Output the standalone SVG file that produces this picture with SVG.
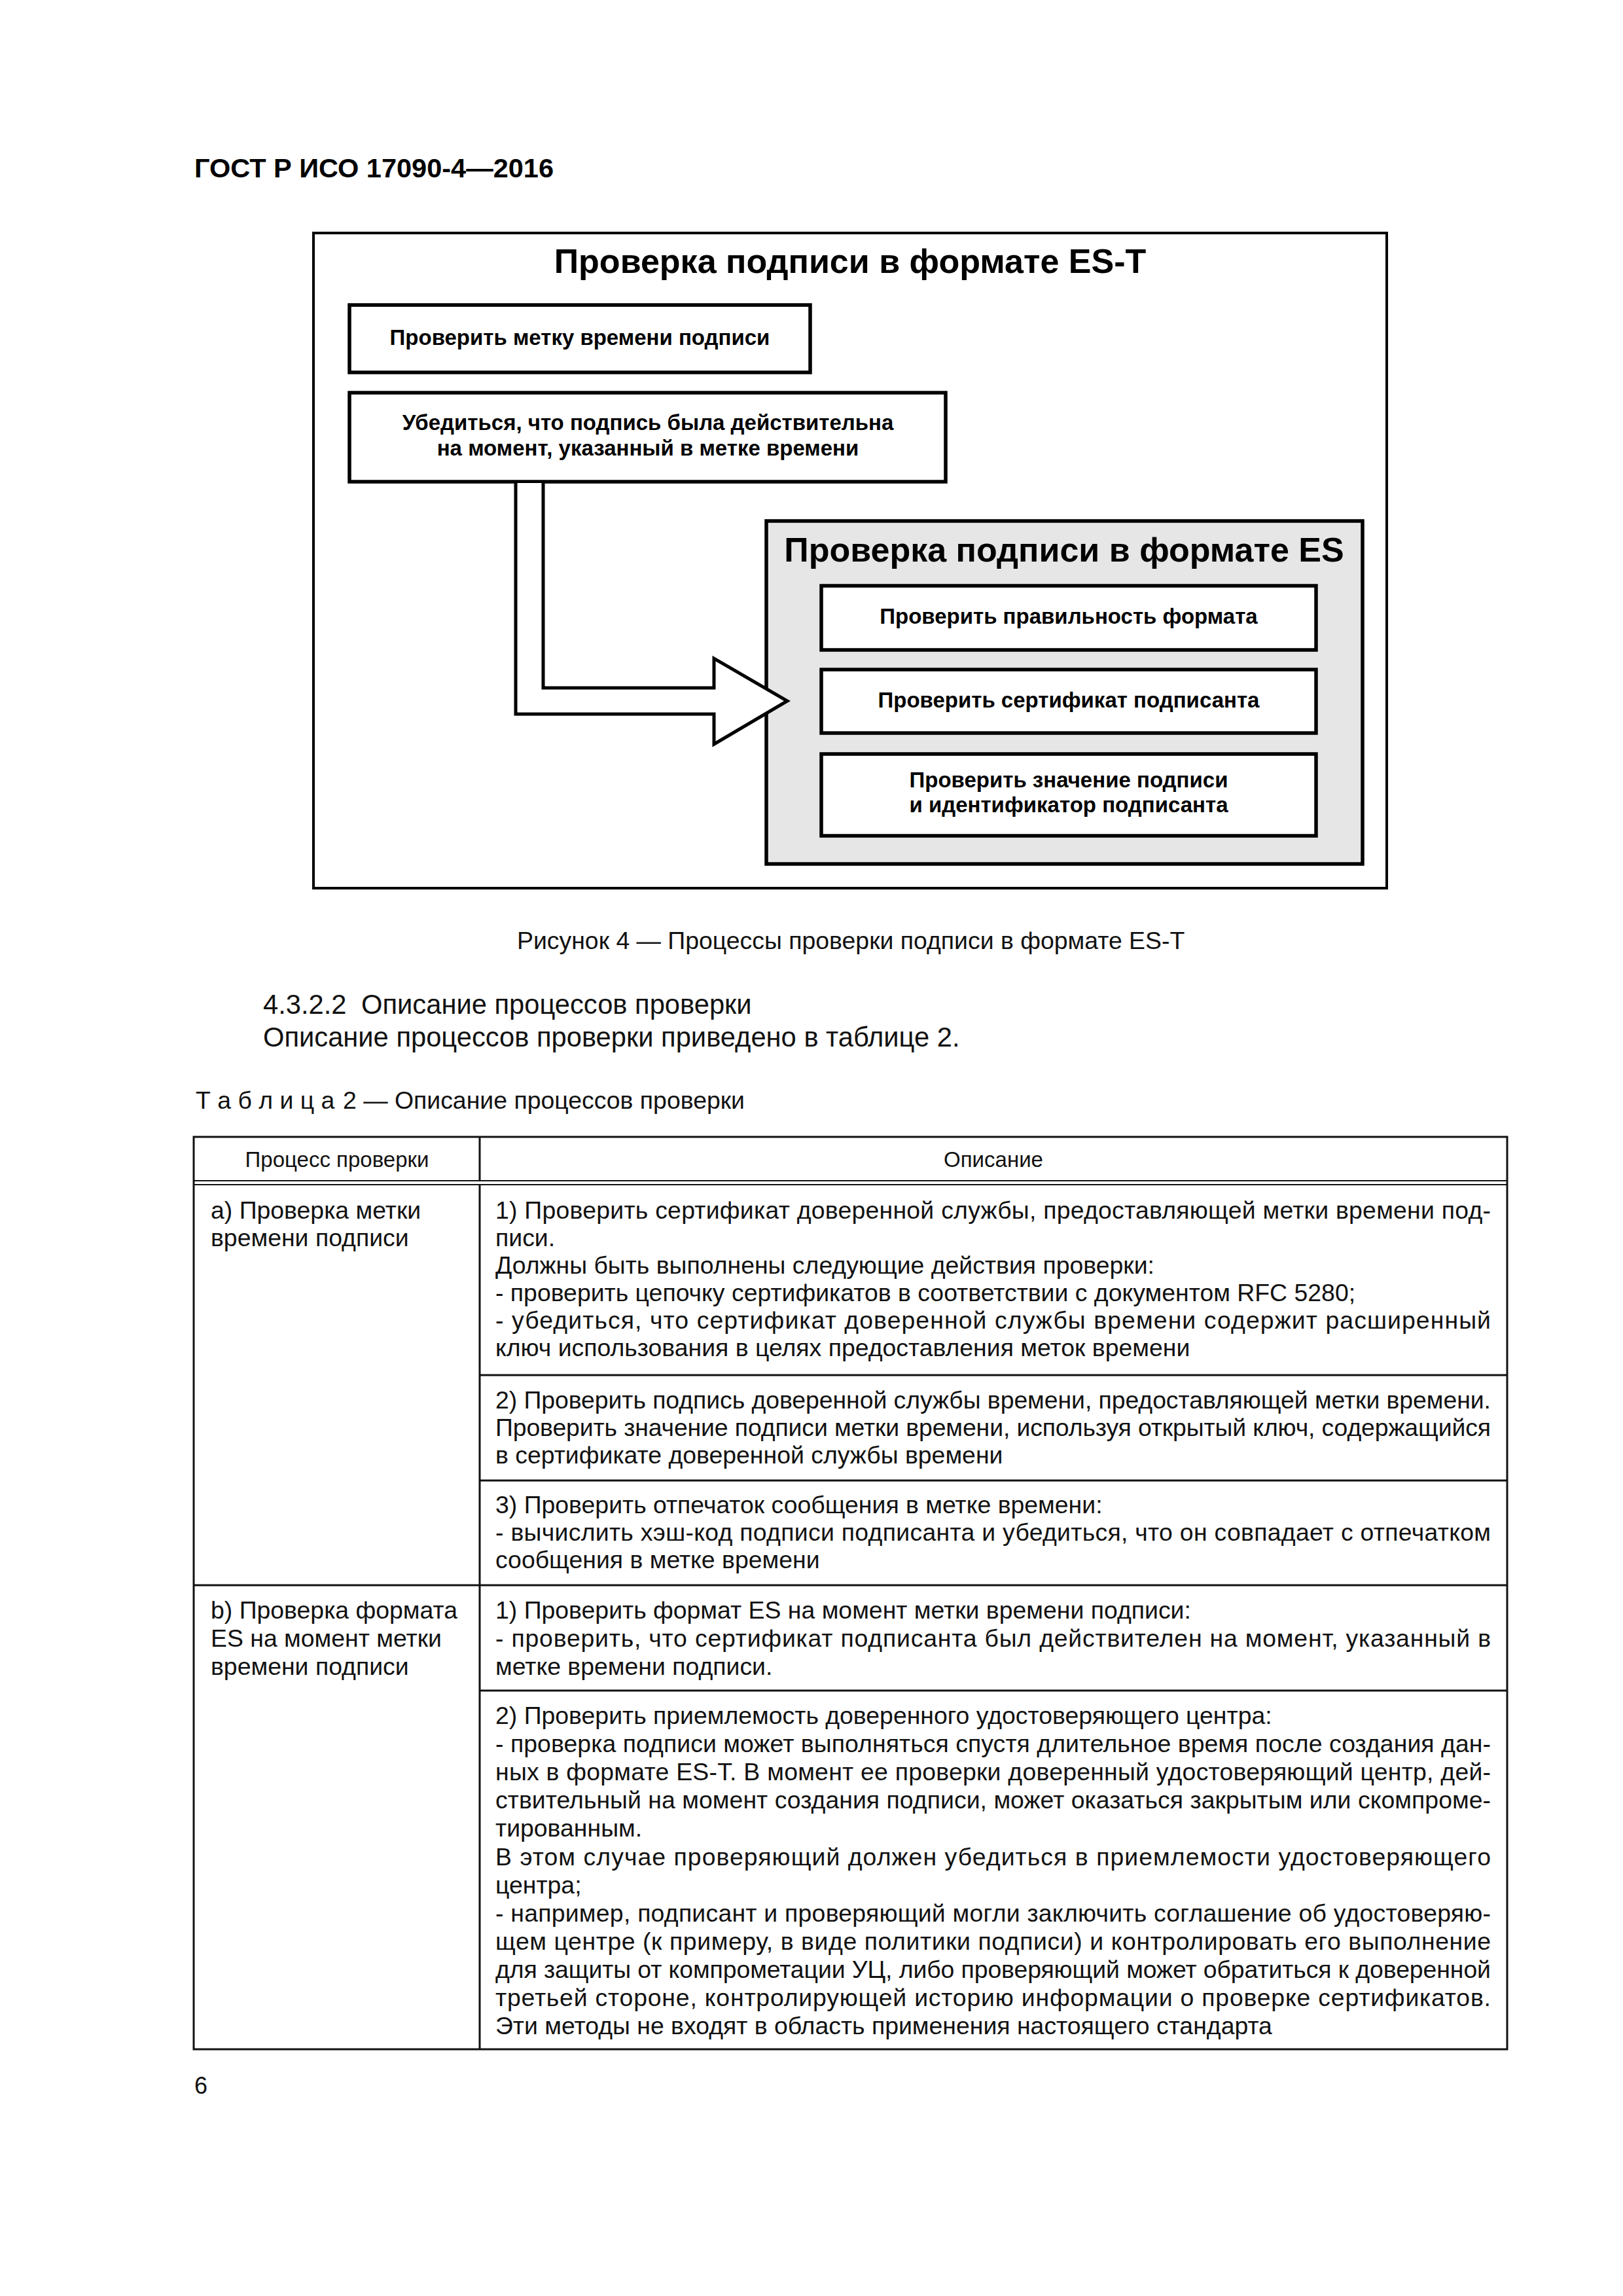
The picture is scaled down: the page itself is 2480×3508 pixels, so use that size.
<svg xmlns="http://www.w3.org/2000/svg" width="2480" height="3508" viewBox="0 0 2480 3508">
<style>
.b{font-family:"Liberation Sans",Arial,sans-serif;font-weight:bold;fill:#000}
.t{font-family:"Liberation Sans",Arial,sans-serif;fill:#111}
.m{text-anchor:middle}
.box{fill:#fff;stroke:#000;stroke-width:5.5}
.grp{fill:#e6e6e6;stroke:#000;stroke-width:5.5}
.frame{fill:#fff;stroke:#000;stroke-width:4}
.tl{stroke:#111;stroke-width:3;fill:none}
.tl2{stroke:#111;stroke-width:2.2;fill:none}
.body{font-size:37.4px}
.bt{font-size:33px}
.ttl{font-size:52px}
</style>
<rect x="0" y="0" width="2480" height="3508" fill="#fff"/>
<text class="b" x="297" y="271" font-size="41.5">ГОСТ Р ИСО 17090-4—2016</text>

<g id="frame">
<rect class="frame" x="479" y="356" width="1640" height="1001"/>
<text class="b m ttl" x="1299" y="417">Проверка подписи в формате ES-T</text>
</g>
<g id="box-timestamp">
<rect class="box" x="534" y="466" width="704" height="103"/>
<text class="b m bt" x="886" y="527">Проверить метку времени подписи</text>
</g>
<g id="box-valid">
<rect class="box" x="534" y="600" width="911" height="136"/>
<text class="b m bt" x="990" y="657">Убедиться, что подпись была действительна</text>
<text class="b m bt" x="990" y="696">на момент, указанный в метке времени</text>
</g>
<g id="group-es">
<rect class="grp" x="1171" y="796" width="911" height="524"/>
<text class="b m ttl" x="1626" y="858">Проверка подписи в формате ES</text>
</g>
<g id="box-format">
<rect class="box" x="1255" y="895" width="756" height="98"/>
<text class="b m bt" x="1633" y="953">Проверить правильность формата</text>
</g>
<g id="box-cert">
<rect class="box" x="1255" y="1023" width="756" height="97"/>
<text class="b m bt" x="1633" y="1081">Проверить сертификат подписанта</text>
</g>
<g id="box-sig">
<rect class="box" x="1255" y="1152" width="756" height="125"/>
<text class="b m bt" x="1633" y="1203">Проверить значение подписи</text>
<text class="b m bt" x="1633" y="1241">и идентификатор подписанта</text>
</g>
<g id="connectors">
<polyline points="788,738 788,1091 1091,1091 1091,1137 1203,1071 1091,1006 1091,1051 830,1051 830,738" fill="#fff" stroke="#000" stroke-width="5" stroke-linejoin="miter"/>
</g>

<text class="t" x="790" y="1450" font-size="37.4">Рисунок 4 — Процессы проверки подписи в формате ES-T</text>
<text class="t" x="402" y="1549" font-size="41.7">4.3.2.2 <tspan dx="11">Описание процессов проверки</tspan></text>
<text class="t" x="402" y="1599" font-size="41.7">Описание процессов проверки приведено в таблице 2.</text>
<text class="t" x="299" y="1694" font-size="37.4"><tspan>Т а б л и ц а</tspan><tspan x="524">2 — Описание процессов проверки</tspan></text>

<g id="table">
<rect class="tl" x="296" y="1737" width="2007" height="1394"/>
<line class="tl2" x1="296" y1="1804" x2="2303" y2="1804"/>
<line class="tl2" x1="296" y1="1810" x2="2303" y2="1810"/>
<line class="tl" x1="733" y1="1737" x2="733" y2="1804"/>
<line class="tl" x1="733" y1="1810" x2="733" y2="3131"/>
<line class="tl" x1="733" y1="2101" x2="2303" y2="2101"/>
<line class="tl" x1="733" y1="2262" x2="2303" y2="2262"/>
<line class="tl" x1="296" y1="2422" x2="2303" y2="2422"/>
<line class="tl" x1="733" y1="2583" x2="2303" y2="2583"/>

<text class="t m" x="515" y="1783" font-size="33">Процесс проверки</text>
<text class="t m" x="1518" y="1783" font-size="33">Описание</text>

<g class="t body">
<text x="322" y="1862">а) Проверка метки</text>
<text x="322" y="1904">времени подписи</text>
<text x="322" y="2473">b) Проверка формата</text>
<text x="322" y="2516">ES на момент метки</text>
<text x="322" y="2559">времени подписи</text>

<text x="757" y="1862" textLength="1521" lengthAdjust="spacing">1) Проверить сертификат доверенной службы, предоставляющей метки времени под-</text>
<text x="757" y="1904">писи.</text>
<text x="757" y="1946">Должны быть выполнены следующие действия проверки:</text>
<text x="757" y="1988">- проверить цепочку сертификатов в соответствии с документом RFC 5280;</text>
<text x="757" y="2030" textLength="1521" lengthAdjust="spacing">- убедиться, что сертификат доверенной службы времени содержит расширенный</text>
<text x="757" y="2072">ключ использования в целях предоставления меток времени</text>

<text x="757" y="2152" textLength="1521" lengthAdjust="spacing">2) Проверить подпись доверенной службы времени, предоставляющей метки времени.</text>
<text x="757" y="2194" textLength="1521" lengthAdjust="spacing">Проверить значение подписи метки времени, используя открытый ключ, содержащийся</text>
<text x="757" y="2236">в сертификате доверенной службы времени</text>

<text x="757" y="2312">3) Проверить отпечаток сообщения в метке времени:</text>
<text x="757" y="2354" textLength="1521" lengthAdjust="spacing">- вычислить хэш-код подписи подписанта и убедиться, что он совпадает с отпечатком</text>
<text x="757" y="2396">сообщения в метке времени</text>

<text x="757" y="2473">1) Проверить формат ES на момент метки времени подписи:</text>
<text x="757" y="2516" textLength="1521" lengthAdjust="spacing">- проверить, что сертификат подписанта был действителен на момент, указанный в</text>
<text x="757" y="2559">метке времени подписи.</text>

<text x="757" y="2634">2) Проверить приемлемость доверенного удостоверяющего центра:</text>
<text x="757" y="2677" textLength="1521" lengthAdjust="spacing">- проверка подписи может выполняться спустя длительное время после создания дан-</text>
<text x="757" y="2720" textLength="1521" lengthAdjust="spacing">ных в формате ES-T. В момент ее проверки доверенный удостоверяющий центр, дей-</text>
<text x="757" y="2763" textLength="1521" lengthAdjust="spacing">ствительный на момент создания подписи, может оказаться закрытым или скомпроме-</text>
<text x="757" y="2806">тированным.</text>
<text x="757" y="2850" textLength="1521" lengthAdjust="spacing">В этом случае проверяющий должен убедиться в приемлемости удостоверяющего</text>
<text x="757" y="2893">центра;</text>
<text x="757" y="2936" textLength="1521" lengthAdjust="spacing">- например, подписант и проверяющий могли заключить соглашение об удостоверяю-</text>
<text x="757" y="2979" textLength="1521" lengthAdjust="spacing">щем центре (к примеру, в виде политики подписи) и контролировать его выполнение</text>
<text x="757" y="3022" textLength="1521" lengthAdjust="spacing">для защиты от компрометации УЦ, либо проверяющий может обратиться к доверенной</text>
<text x="757" y="3065" textLength="1521" lengthAdjust="spacing">третьей стороне, контролирующей историю информации о проверке сертификатов.</text>
<text x="757" y="3108">Эти методы не входят в область применения настоящего стандарта</text>
</g>
</g>

<text class="t" x="297" y="3199" font-size="36">6</text>
</svg>
